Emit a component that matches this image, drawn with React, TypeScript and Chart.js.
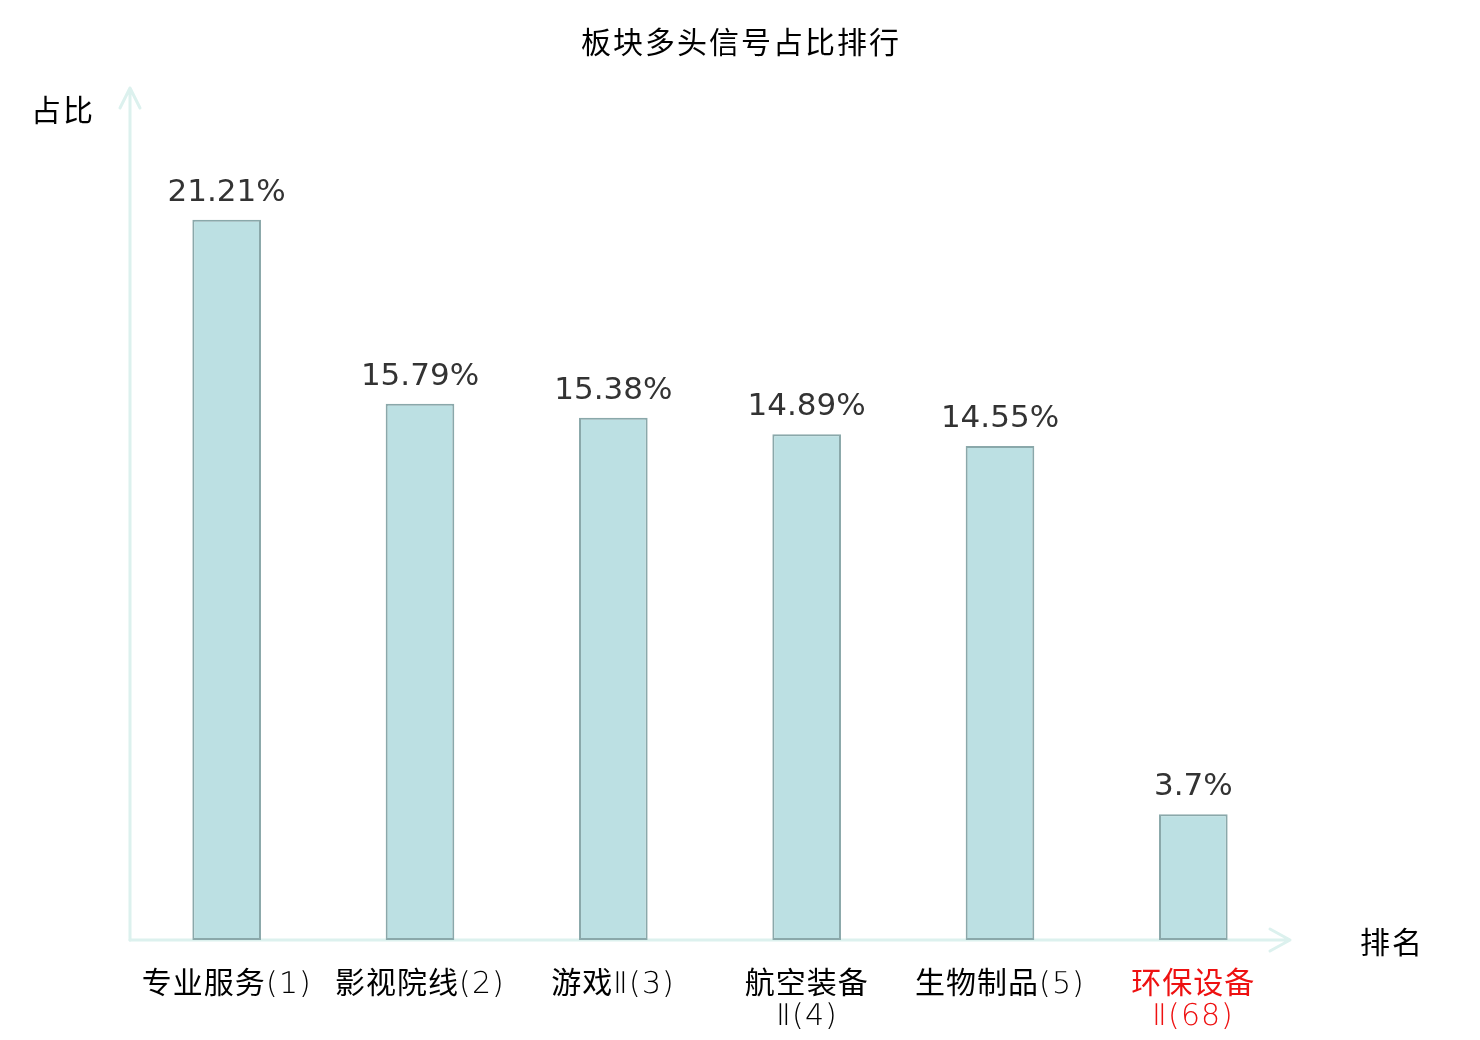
import React, { useEffect, useRef } from "react";
import { Chart, registerables } from "chart.js";

Chart.register(...registerables);

const categories: string[][] = [
  ["专业服务(1)"],
  ["影视院线(2)"],
  ["游戏Ⅱ(3)"],
  ["航空装备", "Ⅱ(4)"],
  ["生物制品(5)"],
  ["环保设备", "Ⅱ(68)"],
];
const shares: number[] = [21.21, 15.79, 15.38, 14.89, 14.55, 3.7];
const highlightIndex = 5;
const titleText = "板块多头信号占比排行";
const yTitle = "占比";
const xTitle = "排名";

const CJK = '"Noto Sans CJK SC", "Noto Sans", sans-serif';
const TICK_FONT = '"TickLatin", "Noto Sans CJK SC", sans-serif';
const AXIS_COLOR = "#dcf1ee";

const fontFaceCss = `@font-face {
  font-family: "TickLatin";
  src: local("DejaVu Sans ExtraLight"), local("DejaVuSans-ExtraLight");
  unicode-range: U+0000-00FF, U+2160-2188;
}`;

const overlayPlugin = {
  id: "overlay",
  beforeDraw(chart: any) {
    chart.ctx.letterSpacing = "1px";
  },
  beforeDatasetsDraw(chart: any) {
    const { ctx, chartArea } = chart;
    ctx.letterSpacing = "0px";
    const { left, right, top, bottom } = chartArea;
    ctx.save();
    ctx.strokeStyle = AXIS_COLOR;
    ctx.lineWidth = 3;
    ctx.lineCap = "round";
    ctx.lineJoin = "round";
    const yTip = top - 3;
    ctx.beginPath();
    ctx.moveTo(left, bottom);
    ctx.lineTo(left, yTip);
    ctx.moveTo(left - 10, yTip + 20);
    ctx.lineTo(left, yTip);
    ctx.lineTo(left + 10, yTip + 20);
    ctx.stroke();
    const xTip = right;
    ctx.beginPath();
    ctx.moveTo(left, bottom);
    ctx.lineTo(xTip, bottom);
    ctx.moveTo(xTip - 20, bottom - 11);
    ctx.lineTo(xTip, bottom);
    ctx.lineTo(xTip - 20, bottom + 11);
    ctx.stroke();
    ctx.restore();
  },
  afterDatasetsDraw(chart: any) {
    const { ctx, chartArea, width } = chart;
    const meta = chart.getDatasetMeta(0);
    ctx.save();
    ctx.letterSpacing = "0px";
    ctx.font = '31px "DejaVu Sans", sans-serif';
    ctx.fillStyle = "#333333";
    ctx.textAlign = "center";
    ctx.textBaseline = "alphabetic";
    meta.data.forEach((bar: any, i: number) => {
      ctx.fillText(String(shares[i]) + "%", bar.x, bar.y - 19);
    });
    ctx.font = `30px ${CJK}`;
    ctx.fillStyle = "#000000";
    ctx.textBaseline = "middle";
    ctx.textAlign = "center";
    ctx.letterSpacing = "2px";
    ctx.fillText(titleText, width / 2 + 1, 34);
    ctx.fillText(yTitle, chartArea.left - 67, chartArea.top + 19);
    ctx.fillText(xTitle, chartArea.right + 102, chartArea.bottom + 2);
    ctx.restore();
  },
  afterDraw(chart: any) {
    chart.ctx.letterSpacing = "0px";
  },
};

export default function App() {
  const canvasRef = useRef<HTMLCanvasElement | null>(null);

  useEffect(() => {
    const canvas = canvasRef.current;
    if (!canvas) return;
    let chart: Chart | null = null;
    let cancelled = false;

    const build = () => {
      if (cancelled) return;
      chart = new Chart(canvas, {
        type: "bar",
        data: {
          labels: categories,
          datasets: [
            {
              data: shares,
              backgroundColor: "#bce0e3",
              borderColor: "#8aa8aa",
              borderWidth: 2,
              borderSkipped: false,
              categoryPercentage: 1,
              barPercentage: 0.355,
            },
          ],
        },
        options: {
          animation: false,
          responsive: true,
          maintainAspectRatio: false,
          layout: { padding: { left: 122, right: 182, top: 83, bottom: 0 } },
          plugins: {
            legend: { display: false },
            tooltip: { enabled: false },
            title: { display: false },
          },
          scales: {
            x: {
              grid: { display: false },
              border: { display: false },
              ticks: {
                padding: 21,
                maxRotation: 0,
                autoSkip: false,
                font: { family: TICK_FONT, size: 30, weight: "normal", lineHeight: 1.07 },
                color: (ctx: any) => (ctx.index === highlightIndex ? "#ee1111" : "#000000"),
              },
              afterFit: (scale: any) => {
                scale.height = 92;
              },
            },
            y: {
              display: false,
              min: 0,
              max: 25,
            },
          },
        },
        plugins: [overlayPlugin],
      });
    };

    const fonts: any = (document as any).fonts;
    if (fonts && fonts.load) {
      fonts
        .load('30px "TickLatin"', "(1)Ⅱ")
        .catch(() => undefined)
        .then(build);
    } else {
      build();
    }

    return () => {
      cancelled = true;
      if (chart) chart.destroy();
    };
  }, []);

  return (
    <div style={{ width: 1464, height: 1024, position: "relative" }}>
      <style>{fontFaceCss}</style>
      <canvas ref={canvasRef} />
    </div>
  );
}
